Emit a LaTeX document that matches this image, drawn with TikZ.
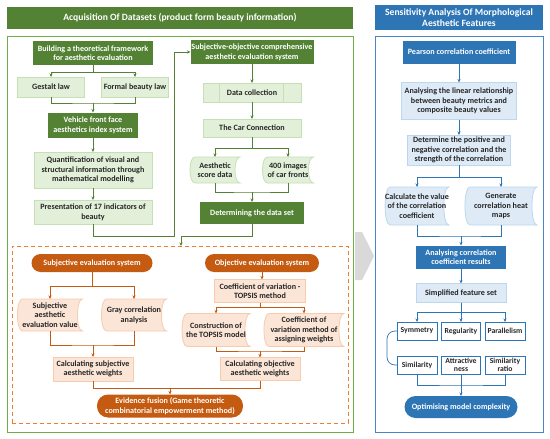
\documentclass[tikz,border=0pt]{standalone}
\usepackage{fontspec}
\setmainfont{Carlito}
\usetikzlibrary{arrows.meta,backgrounds}

\definecolor{dkgreen}{HTML}{548235}
\definecolor{ltgreen}{HTML}{E2F0D9}
\definecolor{ltgreenb}{HTML}{C5E0B4}
\definecolor{gframe}{HTML}{70AD47}
\definecolor{dkorange}{HTML}{C55A11}
\definecolor{ltorange}{HTML}{FBE5D6}
\definecolor{ltorangeb}{HTML}{F8CBAD}
\definecolor{dsorange}{HTML}{ED7D31}
\definecolor{dkblue}{HTML}{2E75B6}
\definecolor{ltblue}{HTML}{DEEBF7}
\definecolor{ltblueb}{HTML}{BDD7EE}
\definecolor{bframe}{HTML}{4A86C5}

\begin{document}
\begin{tikzpicture}[
  x=1pt, y=-1pt,
  every node/.style={font=\bfseries\fontsize{8.1}{9.6}\selectfont, inner sep=0pt,
    outer sep=0pt, align=center, text=black!85},
  sz/.style 2 args={minimum width=#1pt, minimum height=#2pt},
  head/.style={text=white, font=\bfseries\fontsize{9.6}{11.2}\selectfont},
  dkg/.style={fill=dkgreen, text=white},
  ltg/.style={fill=ltgreen, draw=ltgreenb, line width=0.8pt},
  pill/.style={fill=dkorange, text=white, rounded corners=#1},
  lto/.style={fill=ltorange, draw=ltorangeb, line width=0.8pt},
  dkb/.style={fill=dkblue, text=white},
  ltb/.style={fill=ltblue, draw=ltblueb, line width=0.8pt},
  feat/.style={draw=dkblue, fill=white, line width=0.6pt, font=\bfseries\fontsize{7.7}{8}\selectfont},
  gln/.style={draw=dkgreen, line width=0.7pt},
  oln/.style={draw=dkorange, line width=0.7pt},
  bln/.style={draw=dkblue, line width=0.7pt},
  garr/.style={gln, -{Stealth[length=3.5pt,width=3pt]}},
  oarr/.style={oln, -{Stealth[length=3.5pt,width=3pt]}},
  barr/.style={bln, -{Stealth[length=3.5pt,width=3pt]}},
]
\useasboundingbox (0,0) rectangle (550,439);
\begin{scope}[on background layer]
  \fill[white] (0,0) rectangle (550,439);
\end{scope}

% headers and frames
\node (hacq) [head, fill=dkgreen, sz={346}{22}] at (180,18)
  {Acquisition Of Datasets (product form beauty information)};
\node (hsen) [head, fill=dkblue, sz={168}{25}] at (459,17.5)
  {Sensitivity Analysis Of Morphological\\Aesthetic Features};
\node (acq) [draw=gframe, line width=1pt, sz={346}{396}] at (180,234) {};
\node (sen) [draw=bframe, line width=1pt, sz={168}{396}] at (459,234) {};
\node (dsh) [draw=dsorange, dashed, dash pattern=on 4pt off 3pt, line width=1pt, sz={336}{177}] at (180,334.5) {};
\fill[gray!30] (355,232) -- (362,232) -- (374,256) -- (362,280) -- (355,280) -- cycle;

% theoretical framework
\node (build) [dkg, sz={120}{24}] at (93,53) {Building a theoretical framework\\for aesthetic evaluation};
\node (gest) [ltg, sz={67}{20}] at (51,87) {Gestalt law};
\node (form) [ltg, sz={67}{20}] at (135,87) {Formal beauty law};
\node (veh) [dkg, sz={90}{25}] at (93,125) {Vehicle front face\\aesthetics index system};
\node (quant) [ltg, sz={118}{36}] at (93,170) {Quantification of visual and\\structural information through\\mathematical modelling};
\node (pres) [ltg, sz={118}{24}] at (93,212) {Presentation of 17 indicators of\\beauty};
\coordinate (j1) at (93,103);
\coordinate (j2) at (174,236);

\draw[garr] (build.south) -- ++(0,7) -| (gest.north);
\draw[garr] (build.south) -- ++(0,7) -| (form.north);
\draw[gln] (gest.south) |- (j1) -| (form.south);
\draw[garr] (j1) -- (veh.north);
\draw[garr] (veh.south) -- (quant.north);
\draw[garr] (quant.south) -- (pres.north);

% data set
\node (so) [dkg, sz={123}{24}] at (252,52) {Subjective-objective comprehensive\\aesthetic evaluation system};
\node (dc) [ltg, sz={98}{19}] at (252,92.5) {Data collection};
\node (car) [ltg, sz={98}{18}] at (252,128) {The Car Connection};
\node (aes) [sz={50}{26}] at (215,170) {Aesthetic\\score data};
\node (img) [sz={51}{26}] at (288,170) {400 images\\of car fronts};
\node (det) [dkg, sz={104}{22}] at (252,213) {Determining the data set};
\coordinate (j3) at (252,192);
\coordinate (j4) at (181,236);
\draw[ltgreenb, line width=0.8pt]
  ([xshift=16pt]dc.north west) -- ([xshift=16pt]dc.south west)
  ([xshift=-18pt]dc.north east) -- ([xshift=-18pt]dc.south east);

\draw[garr] (pres.south) |- (j2) |- (so.west);
\draw[garr] (so.south) -- (dc.north);
\draw[garr] (dc.south) -- (car.north);
\draw[garr] (car.south) -- ++(0,11) -| (aes.north);
\draw[garr] (car.south) -- ++(0,11) -| (img.north);
\draw[gln] (aes.south) |- (j3) -| (img.south);
\draw[garr] (j3) -- (det.north);
\draw[garr] (det.south) |- (j4) -- (j4 |- dsh.north);

% subjective side
\node (subj) [pill=9pt, sz={121}{18}] at (92,263) {Subjective evaluation system};
\node (sval) [sz={65}{32}] at (50,315) {Subjective\\aesthetic\\evaluation value};
\node (gray) [sz={65}{32}] at (134,315) {Gray correlation\\analysis};
\node (csub) [lto, sz={80}{24}] at (93,369) {Calculating subjective\\aesthetic weights};
\coordinate (j5) at (93,345);

\draw[oarr] (subj.south) -- ++(0,14) -| (sval.north);
\draw[oarr] (subj.south) -- ++(0,14) -| (gray.north);
\draw[oln] (sval.south) |- (j5) -| (gray.south);
\draw[oarr] (j5) -- (csub.north);

% objective side
\node (obj) [pill=9pt, sz={114}{18}] at (262,263) {Objective evaluation system};
\node (topsis) [lto, sz={91}{23}] at (260,291) {Coefficient of variation -\\TOPSIS method};
\node (cons) [sz={68}{33}] at (216,330) {Construction of\\the TOPSIS model};
\node (coef) [sz={80}{33}] at (304,330) {Coefficient of\\variation method of\\assigning weights};
\node (cobj) [lto, sz={80}{23}] at (260,369) {Calculating objective\\aesthetic weights};
\node (evid) [pill=11pt, sz={146}{23}] at (170,406) {Evidence fusion (Game theoretic\\combinatorial empowerment method)};
\coordinate (j7) at (260,351);
\coordinate (j6) at (170,388);

\draw[oarr] (obj.south) -- (obj.south |- topsis.north);
\draw[oarr] (topsis.south) -- ++(0,5) -| (cons.north);
\draw[oarr] (topsis.south) -- ++(0,5) -| (coef.north);
\draw[oln] (cons.south) |- (j7) -| (coef.south);
\draw[oarr] (j7) -- (cobj.north);
\draw[oln] (csub.south) |- (j6);
\draw[oln] (cobj.south) |- (j6);
\draw[oarr] (j6) -- (evid.north);

% sensitivity analysis
\node (pear) [dkb, sz={113}{23}] at (459,52) {Pearson correlation coefficient};
\node (lin) [ltb, sz={115}{37}] at (459,101) {Analysing the linear relationship\\between beauty metrics and\\composite beauty values};
\node (posneg) [ltb, sz={103}{30}] at (459,150) {Determine the positive and\\negative correlation and the\\strength of the correlation};
\node (cval) [sz={63}{38}] at (417,206) {Calculate the value\\of the correlation\\coefficient};
\node (heat) [sz={72}{38}] at (501,206) {Generate\\correlation heat\\maps};
\node (anl) [dkb, sz={90}{23}] at (461,257) {Analysing correlation\\coefficient results};
\node (simp) [ltb, sz={90}{19}] at (461,293) {Simplified feature set};
\node (sym) [feat, sz={40}{18}] at (417,331) {Symmetry};
\node (reg) [feat, sz={39}{18}] at (461,331) {Regularity};
\node (par) [feat, sz={40}{18}] at (505,331) {Parallelism};
\node (sim) [feat, sz={40}{18}] at (417,365) {Similarity};
\node (attr) [feat, sz={39}{18}] at (461,365) {Attractive\\ness};
\node (ratio) [feat, sz={40}{18}] at (505,365) {Similarity\\ratio};
\node (opt) [dkb, rounded corners=11pt, sz={113}{22}] at (461,407) {Optimising model complexity};
\coordinate (j8) at (461,236);
\coordinate (j9) at (461,385);

\draw[barr] (pear.south) -- (pear.south |- lin.north);
\draw[barr] (lin.south) -- (lin.south |- posneg.north);
\draw[barr] (posneg.south) -- ++(0,12) -| (cval.north);
\draw[barr] (posneg.south) -- ++(0,12) -| (heat.north);
\draw[bln] (cval.south) |- (j8) -| (heat.south);
\draw[barr] (j8) -- (anl.north);
\draw[barr] (anl.south) -- (simp.north);
\draw[barr] (simp.south) -- ++(0,10) -| (sym.north);
\draw[barr] (simp.south) -- (reg.north);
\draw[barr] (simp.south) -- ++(0,10) -| (par.north);
\draw[bln, rounded corners=8pt] (sym.west) -- ++(-10,0) |- (sim.west);
\draw[bln] (sim.south) |- (j9) -| (ratio.south);
\draw[bln] (attr.south) -- (j9);
\draw[barr] (j9) -- (opt.north);

% stored data outlines
\begin{scope}[on background layer]
\foreach \n/\f/\d in {aes/ltgreen/ltgreenb, img/ltgreen/ltgreenb,
    sval/ltorange/ltorangeb, gray/ltorange/ltorangeb, cons/ltorange/ltorangeb,
    coef/ltorange/ltorangeb, cval/ltblue/ltblueb, heat/ltblue/ltblueb} {
  \draw[fill=\f, draw=\d, line width=0.8pt]
    ([xshift=5pt]\n.north west) -- (\n.north east)
    .. controls ([xshift=-6.7pt]\n.north east) and ([xshift=-6.7pt]\n.south east) .. (\n.south east)
    -- ([xshift=5pt]\n.south west)
    .. controls ([xshift=-1.7pt]\n.south west) and ([xshift=-1.7pt]\n.north west) .. ([xshift=5pt]\n.north west)
    -- cycle;
}
\end{scope}
\end{tikzpicture}
\end{document}
